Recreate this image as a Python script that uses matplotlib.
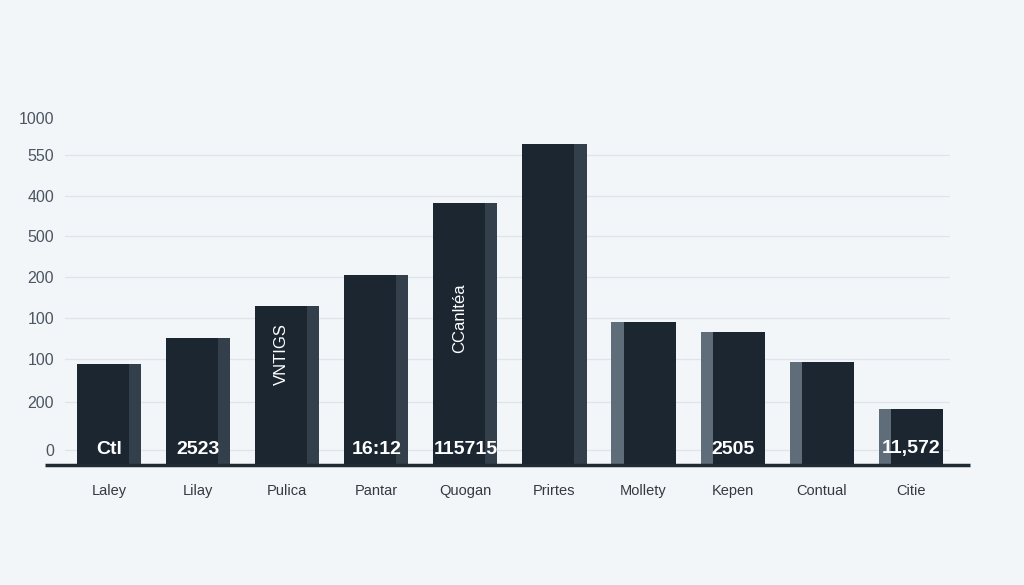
"""
Dark 3D-ish bar chart with odd tick labels on a pale background
"""
import numpy as np
import matplotlib
matplotlib.use("Agg")
import matplotlib.pyplot as plt

plt.rcParams["font.family"] = ["Liberation Sans", "DejaVu Sans"]

# Data
categories = ["Laley", "Lilay", "Pulica", "Pantar", "Quogan",
              "Prirtes", "Mollety", "Kepen", "Contual", "Citie"]
values = [101, 127, 159, 190, 262, 321, 143, 133, 103, 56]
bar_texts = ["Ctl", "2523", "", "16:12", "115715", "", "", "2505", "", "11,572"]
vertical_texts = {2: ("VNTIGS", 0.70), 4: ("CCanltéa", 0.56)}

tick_values = [15, 63, 106, 147, 188, 229, 269, 310, 347]
tick_labels = ["0", "200", "100", "100", "200", "500", "400", "550", "1000"]

# side face on the right for the first bars, on the left for the last ones
side_right = [True, True, True, True, True, True, False, False, False, False]

FRONT = "#1b2631"
SIDE_R = "#333f4a"
SIDE_L = "#5f6d7a"
BG = "#f3f6f9"

fig = plt.figure(figsize=(10.24, 5.85), dpi=100, facecolor=BG)
ax = fig.add_axes([65 / 1024, 120 / 585, 885 / 1024, 365 / 585])
ax.set_facecolor(BG)

x = np.arange(len(categories))
front_w = 0.58
side_w = 0.14

front_x = np.where(side_right, x - side_w / 2, x + side_w / 2)
side_x = np.where(side_right, x + front_w / 2, x - front_w / 2)
side_colors = [SIDE_R if r else SIDE_L for r in side_right]

# gridlines (no line for the top label)
ax.hlines(tick_values[:-1], -0.5, 9.45, colors="#dfe4ea", lw=1.0, zorder=0)

ax.bar(side_x, values, width=side_w, color=side_colors, zorder=2)
ax.bar(front_x, values, width=front_w, color=FRONT, zorder=3)

# floor line
ax.plot([-0.023, 1.023], [0, 0], transform=ax.get_yaxis_transform(),
        color="#1f2a33", lw=2.5, clip_on=False, zorder=4, solid_capstyle="butt")

for i, t in enumerate(bar_texts):
    if t:
        ax.text(x[i], 16, t, color="white", fontsize=14, fontweight="bold",
                ha="center", va="center", zorder=5)

for i, (t, frac) in vertical_texts.items():
    ax.text(front_x[i], values[i] * frac, t, color="white", fontsize=12,
            rotation=90, ha="center", va="center", zorder=5)

ax.set_xlim(-0.494, 9.44)
ax.set_ylim(0, 365)

ax.set_yticks(tick_values)
ax.set_yticklabels(tick_labels, fontsize=11.5, color="#4b5662")
ax.set_xticks(x)
ax.set_xticklabels(categories, fontsize=10.5, color="#333a42")
ax.tick_params(axis="both", length=0)
ax.tick_params(axis="y", pad=8)
ax.tick_params(axis="x", pad=14)

for s in ax.spines.values():
    s.set_visible(False)

fig.savefig("out.png", dpi=100, facecolor=BG)
